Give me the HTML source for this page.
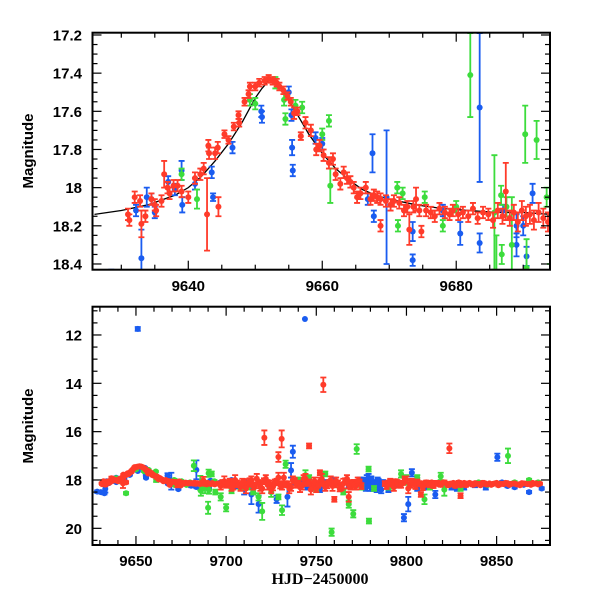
<!DOCTYPE html>
<html><head><meta charset="utf-8"><style>
html,body{margin:0;padding:0;background:#fff;}
svg{display:block;}
text{font-family:"Liberation Sans",sans-serif;font-weight:bold;fill:#000;}
</style></head><body>
<svg id="chart" width="600" height="600" viewBox="0 0 600 600">
<defs>
<clipPath id="clipTop"><rect x="92.5" y="32.7" width="457.5" height="237"/></clipPath>
<clipPath id="clipBot"><rect x="92.5" y="306.7" width="457.5" height="238.3"/></clipPath>
</defs>
<g id="top"></g>
<g id="bot"></g>
<text x="33" y="151" transform="rotate(-90 33 151)" text-anchor="middle" font-size="15">Magnitude</text>
<text x="33" y="426" transform="rotate(-90 33 426)" text-anchor="middle" font-size="15">Magnitude</text>
<text x="320" y="584" text-anchor="middle" font-size="16" style="font-family:'Liberation Serif',serif">HJD−2450000</text>
</svg>
<script>
const modelT=[9626,9630,9634,9638,9640,9642,9644,9646,9648,9650,9651,9652,9653,9654,9655,9656,9658,9660,9662,9664,9666,9668,9670,9674,9678,9682,9686,9690,9694,9700,9750,9800,9880];
const modelM=[18.14,18.12,18.09,18.04,18.00,17.94,17.86,17.77,17.66,17.53,17.48,17.44,17.44,17.48,17.54,17.60,17.72,17.82,17.90,17.96,18.01,18.04,18.06,18.09,18.11,18.12,18.13,18.13,18.14,18.14,18.15,18.15,18.15];

const redT=[9631.0,9631.2,9632.0,9632.8,9633.0,9633.6,9634.5,9635.0,9635.2,9636.0,9636.4,9636.9,9637.2,9637.8,9638.4,9639.0,9640.0,9641.0,9641.8,9642.3,9642.8,9643.0,9643.1,9644.0,9644.4,9645.4,9646.0,9646.8,9647.5,9647.6,9648.4,9649.0,9649.2,9650.0,9650.6,9651.4,9652.0,9652.6,9653.2,9653.6,9654.2,9654.8,9655.3,9655.8,9656.3,9656.8,9657.5,9658.3,9659.1,9659.6,9660.2,9661.0,9661.6,9662.0,9662.7,9663.2,9663.7,9664.2,9664.7,9665.2,9665.7,9666.5,9667.2,9667.7,9668.2,9668.7,9668.7,9669.5,9670.2,9670.7,9671.5,9672.2,9672.7,9673.0,9673.6,9674.0,9674.5,9674.8,9675.5,9676.2,9676.8,9677.5,9678.3,9679.0,9679.5,9680.3,9681.0,9681.8,9682.5,9683.2,9684.0,9684.8,9685.5,9686.2,9686.9,9687.4,9688.0,9688.6,9689.2,9689.8,9690.4,9691.0,9691.6,9692.3,9693.0,9693.7,
9696,9698,9700,9702,9704,9706,9708,9710,9712,9714,9716,9718,9720,9722,9724,9726,9728,9730,9732,9734,9736,9738,9740,9742,9744,9746,9748,9750,9752,9754,9756,9758,9760,9762,9764,9766,9768,9770,9772,9774,
9697,9699,9701,9703,9705,9707,9709,9711,9713,9715,9717,9719,9721,9723,9725,9727,9729,9731,9733,9735,9737,9739,9741,9743,9745,9747,9749,9751,9753,9755,9757,9759,9761,9763,9765,9767,9769,9771,9773,9775,
9788,9790,9792,9794,9796,9798,9800,9802,9804,9806,9808,9810,9812,9814,9816,9818,9820,9822,9824,9826,9828,9830,9832,9834,9836,9838,9840,9842,9844,9846,9848,9850,9852,9854,9856,9858,9860,9862,9864,9866,9868,9870,9872,9874,
9789,9791,9793,9795,9797,9799,9801,9803,9805,9807,9809,9811,9813,9815,9817,9819,9821,9823,9825,9827,9829,9831,9833,9835,9837,9839,9841,9843,9845,9847,9849,9851,9853,9855,9857,9859,9861,9863,9865,9867,9869,9871,9873,
9721.2,9730.8,9746.0,9753.9,9823.8,9752.0,9760.0,9768.0,9830.0,9808.0,9729.0,9644.5];
const redM=[18.14,18.17,18.05,18.07,18.19,18.15,18.06,18.09,18.12,18.07,17.93,18.00,18.03,17.99,17.99,18.02,18.05,17.95,17.93,17.90,18.14,17.78,17.82,17.82,17.79,17.72,17.75,17.68,17.62,17.66,17.55,17.51,17.47,17.47,17.45,17.44,17.43,17.44,17.45,17.47,17.49,17.52,17.55,17.61,17.60,17.73,17.66,17.70,17.80,17.78,17.83,17.87,17.85,17.93,17.98,17.92,17.95,17.97,18.00,18.05,18.03,18.00,18.06,18.04,18.05,18.06,18.20,18.07,18.09,18.07,18.08,18.12,18.10,18.22,18.10,18.06,18.12,18.23,18.12,18.13,18.15,18.11,18.13,18.14,18.12,18.14,18.13,18.15,18.11,18.16,18.13,18.14,18.17,18.12,18.15,18.02,18.16,18.13,18.18,18.12,18.15,18.14,18.17,18.13,18.16,18.18,
18.15,18.10,18.20,18.05,18.25,18.12,18.30,18.08,18.18,18.00,18.22,18.10,18.35,17.95,18.15,18.28,18.05,18.20,17.90,18.18,18.30,18.02,18.15,18.25,17.95,18.10,18.20,18.35,18.05,18.15,18.22,18.00,18.18,18.12,18.28,18.05,18.20,18.10,18.25,18.08,
18.25,18.05,18.15,18.30,18.00,18.20,18.10,18.35,18.05,18.25,17.95,18.30,18.05,18.20,18.40,18.10,17.90,18.25,18.15,18.35,18.00,18.20,18.30,17.95,18.15,18.40,18.05,18.20,17.95,18.30,18.10,18.25,18.05,18.35,18.15,17.95,18.30,18.20,18.05,18.25,
18.15,18.10,18.18,18.05,18.20,18.12,18.00,18.22,18.15,18.08,18.18,18.12,18.20,18.10,18.15,18.18,18.12,18.14,18.20,18.12,18.16,18.22,18.12,18.15,18.18,18.13,18.16,18.12,18.18,18.14,18.16,18.12,18.15,18.17,18.13,18.16,18.14,18.18,18.13,18.15,18.16,18.12,18.14,18.15,
18.25,18.05,18.30,18.10,18.20,17.95,18.35,18.05,18.25,18.15,18.30,18.10,18.20,18.25,18.12,18.20,18.10,18.22,18.15,18.25,18.10,18.18,18.22,18.12,18.20,18.15,18.22,18.12,18.18,18.20,18.14,18.22,18.16,18.12,18.20,18.15,18.18,18.22,18.14,18.17,18.20,18.15,18.18,
16.25,16.30,16.59,14.06,16.69,17.70,18.80,18.70,18.65,18.60,17.05,18.10];
const redE=[0.03,0.03,0.03,0.03,0.07,0.03,0.03,0.03,0.03,0.03,0.07,0.03,0.03,0.03,0.03,0.03,0.03,0.03,0.03,0.03,0.19,0.03,0.03,0.03,0.03,0.02,0.02,0.02,0.02,0.02,0.02,0.02,0.02,0.02,0.02,0.02,0.02,0.02,0.02,0.02,0.02,0.02,0.02,0.03,0.02,0.02,0.03,0.03,0.03,0.03,0.03,0.03,0.03,0.03,0.03,0.03,0.03,0.03,0.03,0.03,0.03,0.03,0.03,0.03,0.03,0.03,0.03,0.03,0.03,0.03,0.03,0.03,0.03,0.08,0.03,0.06,0.03,0.03,0.03,0.03,0.03,0.03,0.03,0.03,0.03,0.03,0.03,0.03,0.03,0.03,0.03,0.03,0.04,0.04,0.04,0.15,0.04,0.04,0.05,0.05,0.05,0.05,0.05,0.05,0.05,0.05,
0.08,0.10,0.12,0.10,0.15,0.10,0.15,0.12,0.10,0.15,0.12,0.10,0.20,0.15,0.12,0.15,0.10,0.15,0.20,0.12,0.15,0.10,0.12,0.15,0.20,0.12,0.10,0.15,0.15,0.10,0.12,0.15,0.12,0.10,0.15,0.12,0.15,0.10,0.15,0.10,
0.15,0.20,0.12,0.15,0.20,0.10,0.15,0.20,0.12,0.15,0.20,0.15,0.12,0.20,0.15,0.12,0.20,0.15,0.10,0.20,0.15,0.12,0.20,0.15,0.10,0.20,0.15,0.12,0.20,0.15,0.10,0.20,0.15,0.12,0.20,0.15,0.10,0.20,0.15,0.12,
0.10,0.08,0.10,0.08,0.12,0.08,0.15,0.10,0.08,0.10,0.08,0.06,0.08,0.06,0.06,0.06,0.06,0.05,0.06,0.05,0.05,0.06,0.05,0.05,0.05,0.04,0.04,0.04,0.04,0.04,0.04,0.04,0.04,0.04,0.04,0.04,0.04,0.04,0.04,0.04,0.04,0.04,0.04,0.04,
0.12,0.10,0.15,0.10,0.12,0.10,0.20,0.10,0.12,0.10,0.12,0.08,0.10,0.08,0.08,0.08,0.08,0.06,0.08,0.06,0.06,0.06,0.06,0.05,0.06,0.05,0.05,0.05,0.05,0.05,0.05,0.05,0.05,0.05,0.05,0.05,0.05,0.05,0.05,0.05,0.05,0.05,0.05,
0.30,0.35,0.10,0.30,0.20,0.10,0.10,0.20,0.10,0.10,0.20,0.05];

const blueT=[9632.2,9633.0,9633.8,9634.5,9635.0,9637.0,9638.0,9639.0,9639.1,9641.0,9643.5,9643.7,9646.6,9650.9,9651.0,9655.0,9655.4,9655.5,9655.6,9659.0,9660.0,9666.8,9667.5,9667.7,9669.6,9673.5,9673.5,9678.0,9680.6,9683.5,9683.5,9687.0,9689.0,9689.0,9690.0,9690.5,9691.4,9651.0,9630.5,9632.5,9628.5,
9697,9700,9703,9706,9710,9714,9718,9724,9728,9734,9737,9736,9738,9741,9743.7,9745,9748,9752,9756,9760,9764,9768,9771,9774,9776,9777,9778,9779,9780,9781,9782,9783,9784,9785,9786,9787,9775.5,9776.5,9777.5,9778.5,9779.5,9780.5,9781.5,9782.5,9783.5,9784.5,9785.5,9786.5,9790,9793,9796,9798.6,9801,9803,9806,9811,9816,9820,9825,9828,9832,9838,9844,9850.4,9853,9856,9860,9865,9868,9870,9875];
const blueM=[18.12,18.37,18.05,18.06,18.13,17.97,18.01,17.91,18.09,17.98,17.92,18.05,17.79,17.60,17.63,17.50,17.62,17.79,17.91,17.74,17.77,18.06,17.82,18.15,18.05,18.23,18.38,18.12,18.24,18.29,17.58,18.12,18.20,18.30,18.20,18.36,18.03,11.75,18.50,18.55,18.48,
18.10,18.20,18.00,18.25,18.30,18.60,19.00,18.30,18.80,18.70,16.83,17.60,18.10,18.05,11.34,18.30,18.25,18.40,18.10,18.00,18.30,18.20,18.10,18.00,18.05,18.30,18.00,17.90,18.20,18.35,18.10,18.25,18.00,18.20,18.40,18.10,18.20,18.00,18.30,18.10,18.25,17.95,18.30,18.15,18.35,18.05,18.25,18.15,18.40,18.10,18.20,19.56,19.00,17.70,18.35,18.30,18.60,18.15,18.30,18.35,18.30,18.20,18.30,17.06,18.10,18.25,18.30,18.20,18.50,18.15,18.35];
const blueE=[0.03,0.15,0.05,0.03,0.03,0.03,0.03,0.05,0.04,0.03,0.03,0.02,0.03,0.03,0.03,0.03,0.03,0.04,0.03,0.03,0.03,0.03,0.10,0.03,0.35,0.05,0.03,0.03,0.06,0.05,0.39,0.03,0.06,0.06,0.05,0.05,0.05,0.08,0.05,0.05,0.05,
0.05,0.05,0.05,0.10,0.30,0.40,0.35,0.10,0.15,0.40,0.25,0.30,0.10,0.10,0.00,0.10,0.10,0.10,0.10,0.10,0.10,0.10,0.10,0.10,0.10,0.10,0.20,0.15,0.10,0.10,0.10,0.10,0.10,0.10,0.15,0.10,0.15,0.10,0.15,0.10,0.20,0.10,0.15,0.10,0.15,0.10,0.15,0.10,0.10,0.10,0.10,0.15,0.30,0.15,0.10,0.10,0.15,0.10,0.10,0.10,0.10,0.10,0.10,0.15,0.05,0.05,0.05,0.05,0.05,0.05,0.05];

const greenT=[9639.0,9641.3,9649.2,9650.0,9653.0,9654.3,9654.5,9656.0,9657.0,9660.0,9661.0,9661.2,9671.2,9671.3,9672.0,9675.3,9678.0,9680.0,9682.1,9685.7,9686.7,9686.8,9687.5,9688.3,9690.3,9690.5,9693.5,9644.5,
9686,9690,9692,9694,9697,9700,9703,9708,9712,9715,9718,9720,9725,9729,9731,9733,9740,9744,9746,9750,9755,9758.5,9760,9765,9768,9770.5,9772.4,9775,9779,9779.2,9782,9790,9797,9800,9806,9810,9813,9819,9821,9830,9840,9845,9856.3,9860,9868,9873];
const greenM=[17.93,18.06,17.54,17.56,17.45,17.54,17.64,17.57,17.58,17.72,17.65,17.99,18.00,18.20,18.03,18.05,18.20,18.10,17.41,18.13,18.04,18.35,18.10,18.30,17.72,18.42,18.05,18.55,
18.45,19.15,17.75,18.50,18.70,19.15,18.45,18.30,18.30,18.50,18.70,19.30,18.50,18.70,19.25,17.35,18.00,17.80,17.90,18.40,17.75,20.16,18.20,18.50,19.00,19.40,16.72,18.30,17.55,19.70,18.35,18.30,17.75,18.00,17.90,18.80,18.30,17.85,18.40,18.35,18.10,18.20,17.00,18.10,18.00,18.10];
const greenE=[0.03,0.05,0.03,0.03,0.03,0.03,0.03,0.03,0.03,0.03,0.03,0.09,0.03,0.03,0.03,0.03,0.03,0.03,0.22,0.30,0.05,0.05,0.05,0.25,0.15,0.15,0.05,0.05,
0.20,0.25,0.10,0.10,0.15,0.15,0.10,0.10,0.10,0.10,0.15,0.35,0.20,0.10,0.20,0.15,0.10,0.20,0.10,0.10,0.10,0.15,0.10,0.10,0.15,0.15,0.20,0.10,0.10,0.10,0.10,0.10,0.15,0.20,0.10,0.20,0.10,0.15,0.25,0.10,0.05,0.05,0.30,0.05,0.05,0.05];

const NS='http://www.w3.org/2000/svg';
function mk(parent,tag,attrs){const e=document.createElementNS(NS,tag);for(const k in attrs)e.setAttribute(k,attrs[k]);parent.appendChild(e);return e;}
const panels=[
 {g:document.getElementById('top'),clip:'clipTop',L:92.5,R:550,T:32.7,B:269.7,x0:9625.7,x1:9694.0,y0:17.188,y1:18.43,
  xMaj:[9640,9660,9680],xMin:5,yMaj:[17.2,17.4,17.6,17.8,18,18.2,18.4],yMin:0.05,labY:291,name:'top'},
 {g:document.getElementById('bot'),clip:'clipBot',L:92.5,R:550,T:306.7,B:545,x0:9625.9,x1:9879.6,y0:10.83,y1:20.69,
  xMaj:[9650,9700,9750,9800,9850],xMin:10,yMaj:[12,14,16,18,20],yMin:0.5,labY:566,name:'bottom'}
];
const series=[
 {n:'blue',c:'#1a5cf0',t:blueT,m:blueM,e:blueE},
 {n:'green',c:'#3cdc3c',t:greenT,m:greenM,e:greenE},
 {n:'red',c:'#ff3b2a',t:redT,m:redM,e:redE}
];
panels.forEach(p=>{
 const xs=d=>p.L+(d-p.x0)/(p.x1-p.x0)*(p.R-p.L);
 const ys=m=>p.T+(m-p.y0)/(p.y1-p.y0)*(p.B-p.T);
 const data=mk(p.g,'g',{'clip-path':'url(#'+p.clip+')'});
 
 
 series.forEach(s=>{
  const sg=mk(data,'g',{});
  
  
  for(let i=0;i<s.t.length;i++){
   const x=xs(s.t[i]),y=ys(s.m[i]),e=s.e[i];
   if(x<p.L-10||x>p.R+10)continue;
   if(e>0){
    const ya=ys(s.m[i]-e),yb=ys(s.m[i]+e);
    mk(sg,'path',{d:`M${x},${ya}V${yb}M${x-3},${ya}H${x+3}M${x-3},${yb}H${x+3}`,stroke:s.c,'stroke-width':1.8,fill:'none'});
   }
   const pt=mk(sg,'circle',{cx:x,cy:y,r:3,fill:s.c});
   
   
  }
 });
 if(p.name==='top'){
  let d='';
  modelT.forEach((t,i)=>{d+=(i?'L':'M')+xs(t)+','+ys(modelM[i]);});
  const ml=mk(data,'path',{d:d,stroke:'#000','stroke-width':1.3,fill:'none'});
  
  
  data.insertBefore(ml,data.firstChild);
 }
 const ax=mk(p.g,'g',{stroke:'#000','stroke-width':1.2});
 
 
 for(let d=Math.ceil(p.x0/p.xMin)*p.xMin;d<=p.x1;d+=p.xMin){
  const x=xs(d);const maj=p.xMaj.some(v=>Math.abs(v-d)<1e-6)||(d%(p.xMin*(p.name==='top'?4:5))===0);const len=maj?9:5;
  mk(ax,'line',{x1:x,y1:p.B,x2:x,y2:p.B-len});mk(ax,'line',{x1:x,y1:p.T,x2:x,y2:p.T+len});
 }
 const ny=Math.round((p.y1-p.y0)/p.yMin)+2;
 for(let k=0;k<ny;k++){
  const m=Math.ceil(p.y0/p.yMin-1e-6)*p.yMin+k*p.yMin; if(m>p.y1)break;
  const y=ys(m);const maj=p.yMaj.some(v=>Math.abs(v-m)<1e-6);const len=maj?9:5;
  mk(ax,'line',{x1:p.L,y1:y,x2:p.L+len,y2:y});mk(ax,'line',{x1:p.R,y1:y,x2:p.R-len,y2:y});
 }
 mk(ax,'rect',{x:p.L,y:p.T,width:p.R-p.L,height:p.B-p.T,fill:'none','stroke-width':2});
 p.xMaj.forEach(v=>{const t=mk(p.g,'text',{x:xs(v),y:p.labY,'text-anchor':'middle','font-size':15});t.textContent=v;
  
  });
 p.yMaj.forEach(v=>{const t=mk(p.g,'text',{x:82,y:ys(v)+5.5,'text-anchor':'end','font-size':15});t.textContent=(p.name==='top'&&v!==18)?v.toFixed(1):v;
  
  });
});
</script>
</body></html>
